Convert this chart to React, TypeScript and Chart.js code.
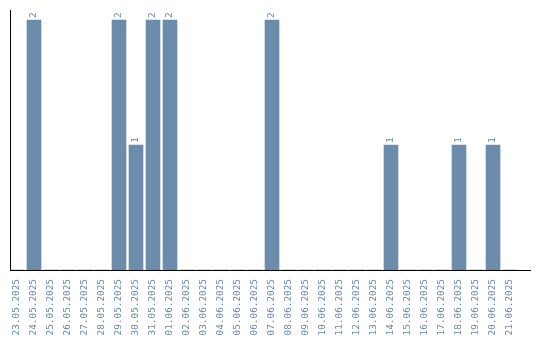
import React, { useEffect, useRef } from "react";
import { Chart, registerables } from "chart.js";

Chart.register(...registerables);

const dates: string[] = [
  "23.05.2025", "24.05.2025", "25.05.2025", "26.05.2025", "27.05.2025", "28.05.2025",
  "29.05.2025", "30.05.2025", "31.05.2025", "01.06.2025", "02.06.2025", "03.06.2025",
  "04.06.2025", "05.06.2025", "06.06.2025", "07.06.2025", "08.06.2025", "09.06.2025",
  "10.06.2025", "11.06.2025", "12.06.2025", "13.06.2025", "14.06.2025", "15.06.2025",
  "16.06.2025", "17.06.2025", "18.06.2025", "19.06.2025", "20.06.2025", "21.06.2025",
];

const counts: number[] = [
  0, 2, 0, 0, 0, 0, 2, 1, 2, 2, 0, 0, 0, 0, 0, 2, 0, 0, 0, 0, 0, 0, 1, 0, 0, 0, 1, 0, 1, 0,
];

const BAR_COLOR = "#6b8cab";
const TEXT_COLOR = "#6a8aab";
const FONT_FAMILY = "'DejaVu Sans Mono', monospace";

const valueLabels = {
  id: "valueLabels",
  afterDatasetsDraw(chart: any) {
    const ctx = chart.ctx;
    const meta = chart.getDatasetMeta(0);
    ctx.save();
    ctx.fillStyle = TEXT_COLOR;
    ctx.font = `9.5px ${FONT_FAMILY}`;
    ctx.textAlign = "left";
    ctx.textBaseline = "middle";
    meta.data.forEach((el: any, i: number) => {
      const v = counts[i];
      if (!v) return;
      ctx.save();
      ctx.translate(el.x, el.y - 2);
      ctx.rotate(-Math.PI / 2);
      ctx.fillText(String(v), 0, 0);
      ctx.restore();
    });
    ctx.restore();
  },
};

export default function App() {
  const ref = useRef<HTMLCanvasElement | null>(null);

  useEffect(() => {
    if (!ref.current) return;
    const chart = new Chart(ref.current, {
      type: "bar",
      data: {
        datasets: [
          {
            data: counts.map((v, i) => ({ x: i, y: v })),
            backgroundColor: BAR_COLOR,
            borderWidth: 0,
            barThickness: 14,
          },
        ],
      },
      options: {
        animation: false,
        responsive: true,
        maintainAspectRatio: false,
        layout: { padding: { left: 10, right: 10, top: 10, bottom: 0 } },
        plugins: {
          legend: { display: false },
          tooltip: { enabled: false },
          title: { display: false },
        },
        scales: {
          x: {
            type: "linear",
            offset: false,
            min: -0.412,
            max: 30.176,
            grid: { display: false, drawTicks: false, offset: false },
            border: { display: true, color: "#000", width: 1 },
            afterBuildTicks: (scale: any) => {
              scale.ticks = dates.map((_, i) => ({ value: i }));
            },
            afterFit: (scale: any) => {
              scale.height = 70;
            },
            ticks: {
              autoSkip: false,
              minRotation: 90,
              maxRotation: 90,
              padding: 9,
              color: TEXT_COLOR,
              font: { family: FONT_FAMILY, size: 9.4 },
              callback: (value: any) => dates[value as number] ?? "",
            },
          },
          y: {
            min: 0,
            max: 2.08,
            grid: { display: false, drawTicks: false },
            border: { display: true, color: "#000", width: 1 },
            ticks: { display: false },
          },
        },
      },
      plugins: [valueLabels],
    });
    return () => chart.destroy();
  }, []);

  return (
    <div style={{ position: "fixed", left: 0, top: 0, width: 540, height: 340, background: "#fff" }}>
      <canvas ref={ref} />
    </div>
  );
}
